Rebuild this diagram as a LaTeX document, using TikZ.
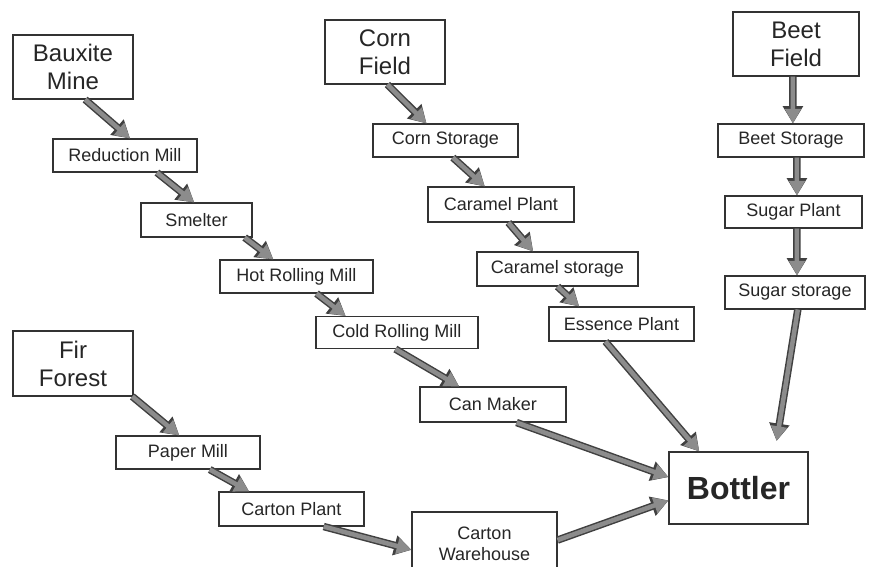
\documentclass[tikz,border=0pt]{standalone}
\usepackage{fontspec}
\setmainfont{Liberation Sans}
\usetikzlibrary{calc,arrows.meta}

% arrow from the bottom edge of one box to the top edge of another,
% the fractions give the positions along each edge
\newcommand\flowdown[4]{\draw[flow] ($(#1.south west)!#2!(#1.south east)$) -- ($(#3.north west)!#4!(#3.north east)$);}

\begin{document}
\begin{tikzpicture}[x=0.75pt,y=-0.75pt,
  box/.style={draw=black!80, line width=0.8pt, fill=white, inner sep=0pt,
    align=center, text=black!85},
  smallbox/.style={box, font=\fontsize{13.5}{16}\selectfont},
  bigbox/.style={box, font=\fontsize{18}{21}\selectfont},
  mainbox/.style={box, font=\fontsize{24}{28}\selectfont\bfseries},
  flow/.style={draw=black!45, line width=3.4pt,
    -{Triangle[length=11pt,width=11.5pt]},
    preaction={draw=black!75, line width=5.6pt,
      -{Triangle[length=13pt,width=14.5pt]}}}
]
\useasboundingbox (0,0) rectangle (871,567);

% aluminium chain
\node[bigbox, minimum width=90pt, minimum height=48pt] (bauxite) at (73,67) {Bauxite\\Mine};
\node[smallbox, minimum width=108pt, minimum height=24.75pt] (reduction) at (125,155.5) {Reduction Mill};
\node[smallbox, minimum width=83.25pt, minimum height=25.5pt] (smelter) at (196.5,220) {Smelter};
\node[smallbox, minimum width=114.75pt, minimum height=24.75pt] (hot) at (296.5,276.5) {Hot Rolling Mill};
\node[smallbox, minimum width=121.5pt, minimum height=24pt] (cold) at (397,332.5) {Cold Rolling Mill};
\node[smallbox, minimum width=109.5pt, minimum height=26.25pt] (can) at (493,404.5) {Can Maker};

% corn chain
\node[bigbox, minimum width=90pt, minimum height=48pt] (corn) at (385,52) {Corn\\Field};
\node[smallbox, minimum width=108.75pt, minimum height=24.75pt] (cornst) at (445.5,140.5) {Corn Storage};
\node[smallbox, minimum width=109.5pt, minimum height=26.25pt] (caramel) at (501,204.5) {Caramel Plant};
\node[smallbox, minimum width=120.75pt, minimum height=25.5pt] (caramelst) at (557.5,269) {Caramel storage};
\node[smallbox, minimum width=108.75pt, minimum height=25.5pt] (essence) at (621.5,324) {Essence Plant};

% beet chain
\node[bigbox, minimum width=94.5pt, minimum height=48pt] (beet) at (796,44) {Beet\\Field};
\node[smallbox, minimum width=109.5pt, minimum height=24.75pt] (beetst) at (791,140.5) {Beet Storage};
\node[smallbox, minimum width=102.75pt, minimum height=24pt] (sugar) at (793.5,212) {Sugar Plant};
\node[smallbox, minimum width=105pt, minimum height=24.75pt] (sugarst) at (795,292.5) {Sugar storage};

% paper chain
\node[bigbox, minimum width=90pt, minimum height=48.75pt] (fir) at (73,363.5) {Fir\\Forest};
\node[smallbox, minimum width=108pt, minimum height=24.75pt] (paper) at (188,452.5) {Paper Mill};
\node[smallbox, minimum width=108.75pt, minimum height=25.5pt] (carton) at (291.5,509) {Carton Plant};
\node[smallbox, minimum width=108.75pt, minimum height=48pt] (warehouse) at (484.5,544) {Carton\\Warehouse};

% final stage
\node[mainbox, minimum width=104.25pt, minimum height=54pt] (bottler) at (738.5,488) {Bottler};

% connectors
\flowdown{bauxite}{0.60}{reduction}{0.535}
\flowdown{reduction}{0.72}{smelter}{0.48}
\flowdown{smelter}{0.93}{hot}{0.35}
\flowdown{hot}{0.63}{cold}{0.185}
\flowdown{cold}{0.49}{can}{0.27}
\draw[flow] ($(can.south west)!0.66!(can.south east)$) -- ($(bottler.north west)!0.35!(bottler.south west)$);

\flowdown{corn}{0.52}{cornst}{0.37}
\flowdown{cornst}{0.55}{caramel}{0.39}
\flowdown{caramel}{0.55}{caramelst}{0.35}
\flowdown{caramelst}{0.50}{essence}{0.21}
\flowdown{essence}{0.39}{bottler}{0.22}

\flowdown{beet}{0.476}{beetst}{0.513}
\flowdown{beetst}{0.54}{sugar}{0.525}
\flowdown{sugar}{0.525}{sugarst}{0.514}
\draw[flow, shorten >=8pt] ($(sugarst.south west)!0.52!(sugarst.south east)$) -- ($(bottler.north west)!0.76!(bottler.north east)$);

\flowdown{fir}{0.99}{paper}{0.44}
\flowdown{paper}{0.65}{carton}{0.21}
\draw[flow] ($(carton.south west)!0.72!(carton.south east)$) -- ($(warehouse.north west)!0.59!(warehouse.south west)$);
\draw[flow] ($(warehouse.north east)!0.44!(warehouse.south east)$) -- ($(bottler.north west)!0.67!(bottler.south west)$);
\end{tikzpicture}
\end{document}
